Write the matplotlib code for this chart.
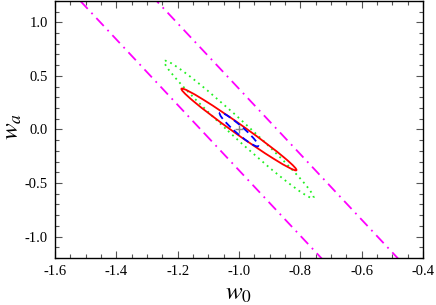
"""Fisher-forecast style w0-wa confidence ellipses."""

import matplotlib

matplotlib.use("Agg")

import matplotlib.pyplot as plt
from matplotlib.patches import Ellipse
from matplotlib.ticker import MultipleLocator

# fiducial model
center_w0 = -1.0
center_wa = 0.0

# ellipses in data units: full width, full height, angle (deg)
labels = ["magenta", "green", "red", "blue"]
widths = [40.0, 1.371, 0.850, 0.339]
heights = [0.237, 0.076, 0.050, 0.0365]
angles = [-71.87, -69.4, -64.0, -69.0]
colors = ["#ff00ff", "#22f022", "#ff0000", "#0000ff"]
styles = [(0, (6, 3, 1, 3)), (0, (1, 2.2)), "-", (0, (4, 2.5))]

x_ticks = [-1.6, -1.4, -1.2, -1.0, -0.8, -0.6, -0.4]
y_ticks = [-1.0, -0.5, 0.0, 0.5, 1.0]

plt.rcParams["axes.unicode_minus"] = False
plt.rcParams["mathtext.fontset"] = "stix"

fig = plt.figure(figsize=(4.36, 3.05), dpi=100)
ax = fig.add_axes([0.126, 0.154, 0.844, 0.843])

for w, h, a, c, ls in zip(widths, heights, angles, colors, styles):
    ax.add_patch(
        Ellipse(
            (center_w0, center_wa), w, h, angle=a,
            fill=False, edgecolor=c, linestyle=ls, linewidth=1.3,
        )
    )

ax.plot([center_w0], [center_wa], marker="+", color="#888888", markersize=6, mew=1)

ax.set_xlim(-1.6, -0.4)
ax.set_ylim(-1.2, 1.2)
ax.set_xticks(x_ticks, [f"{t:.1f}" for t in x_ticks])
ax.set_yticks(y_ticks, [f"{t:.1f}" for t in y_ticks])
ax.xaxis.set_minor_locator(MultipleLocator(0.05))
ax.yaxis.set_minor_locator(MultipleLocator(0.1))
ax.tick_params(which="both", direction="in", top=True, right=True,
               labelsize=10.5, pad=5)
ax.tick_params(which="major", length=5, width=0.8, color="#555555")
ax.tick_params(which="minor", length=3, width=0.8, color="#555555")
for lab in ax.get_xticklabels() + ax.get_yticklabels():
    lab.set_family("Liberation Serif")
for sp in ax.spines.values():
    sp.set_linewidth(1.0)

ax.set_xlabel(r"$w_{\mathit{0}}$", fontsize=18, labelpad=2)
ax.set_ylabel(r"$w_{\mathit{a}}$", fontsize=18)
ax.yaxis.set_label_coords(-0.085, 0.51)

fig.savefig("out.png", dpi=100)
